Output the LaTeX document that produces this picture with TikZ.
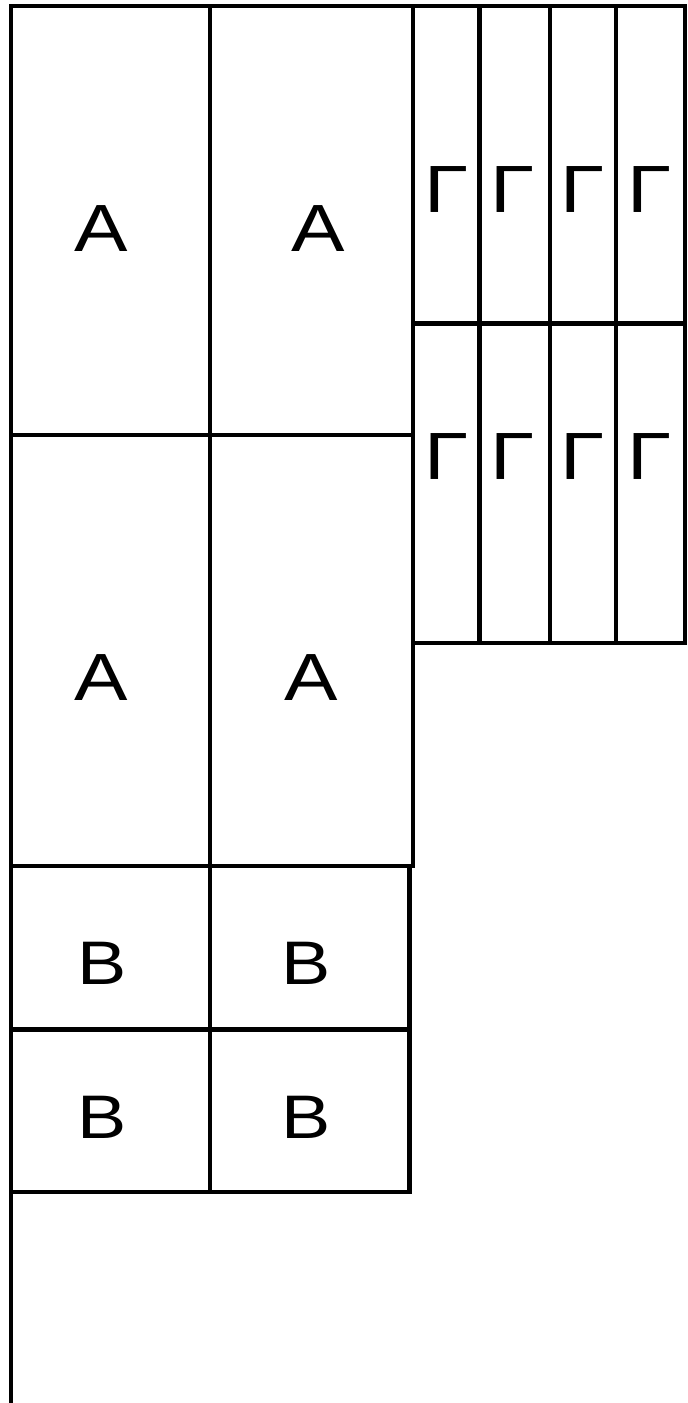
\documentclass[tikz,border=0pt]{standalone}
\usepackage{fontspec}
\setmainfont{Liberation Sans}
\newfontfamily\widefont[FakeStretch=1.2]{Liberation Sans}
\usetikzlibrary{fit}

\begin{document}
\begin{tikzpicture}[
    x=0.02cm, y=-0.02cm,
    cell/.style={rectangle, draw, line width=2.4pt, inner sep=0pt, outer sep=0pt},
    letter/.style={inner sep=0pt, font=\widefont\fontsize{38}{40}\selectfont},
    small letter/.style={inner sep=0pt, font=\widefont\fontsize{35}{38}\selectfont}
]
\useasboundingbox (0,0) rectangle (687,1403);

% A block (2 x 2)
\node[cell, fit={(11,6) (210,435)}] (a11) {};
\node[cell, fit={(210,6) (413,435)}] (a12) {};
\node[cell, fit={(11,435) (210,866)}] (a21) {};
\node[cell, fit={(210,435) (413,866)}] (a22) {};
\node[letter] (la11) at (101.5,228.5) {A};
\node[letter] (la12) at (318.5,228.5) {A};
\node[letter] (la21) at (101.5,678) {A};
\node[letter] (la22) at (311.5,678) {A};

% Gamma block (4 x 2)
\node[cell, fit={(413,6) (479.5,323.5)}] (g11) {};
\node[cell, fit={(479.5,6) (550,323.5)}] (g12) {};
\node[cell, fit={(550,6) (616,323.5)}] (g13) {};
\node[cell, fit={(616,6) (685,323.5)}] (g14) {};
\node[cell, fit={(413,323.5) (479.5,643)}] (g21) {};
\node[cell, fit={(479.5,323.5) (550,643)}] (g22) {};
\node[cell, fit={(550,323.5) (616,643)}] (g23) {};
\node[cell, fit={(616,323.5) (685,643)}] (g24) {};
\node[letter] (lg11) at (446.5,190) {Γ};
\node[letter] (lg12) at (512.5,190) {Γ};
\node[letter] (lg13) at (583,190) {Γ};
\node[letter] (lg14) at (649.5,190) {Γ};
\node[letter] (lg21) at (446.5,457) {Γ};
\node[letter] (lg22) at (512.5,457) {Γ};
\node[letter] (lg23) at (583,457) {Γ};
\node[letter] (lg24) at (649.5,457) {Γ};

% B block (2 x 2)
\node[cell, fit={(11,866) (210,1029.5)}] (b11) {};
\node[cell, fit={(210,866) (409.5,1029.5)}] (b12) {};
\node[cell, fit={(11,1029.5) (210,1192)}] (b21) {};
\node[cell, fit={(210,1029.5) (409.5,1192)}] (b22) {};
\node[small letter] (lb11) at (102,963.5) {B};
\node[small letter] (lb12) at (306,963.5) {B};
\node[small letter] (lb21) at (102,1117) {B};
\node[small letter] (lb22) at (306,1117) {B};

% tail of the left edge
\coordinate (tail) at (11,1403);
\draw[line width=2.4pt] (b21.south west) -- (tail);

\end{tikzpicture}
\end{document}
